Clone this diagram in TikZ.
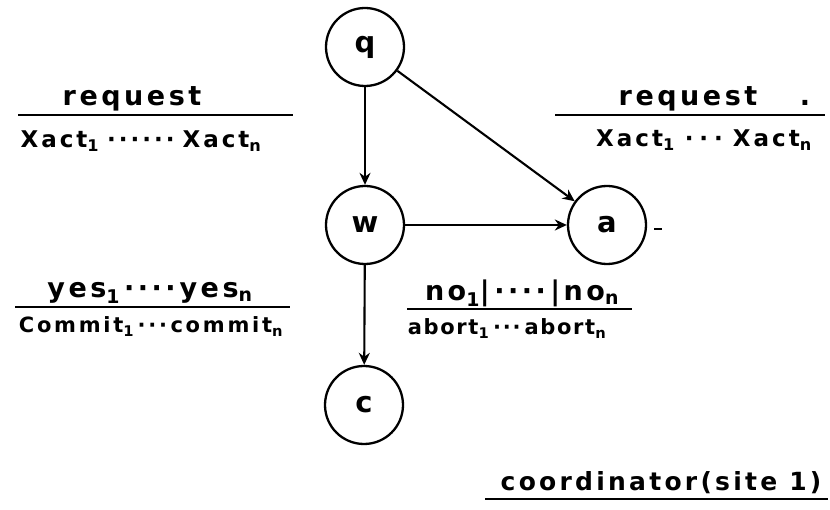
\documentclass[tikz,border=0pt]{standalone}
\usepackage{fontspec}
\usetikzlibrary{arrows.meta}
% labels in a heavy rounded sans, slightly spaced out
\newfontfamily\hand[LetterSpace=13]{DejaVu Sans Bold}
\newfontfamily\handtight[LetterSpace=8]{DejaVu Sans Bold}
\newfontfamily\statefont{DejaVu Sans Bold}
\newcommand\lo[1]{\textsubscript{#1}}
\newcommand\gap[1]{\hspace*{#1pt}}
\begin{document}
\begin{tikzpicture}[x=1pt,y=-1pt,
  line width=2.1pt,
  state/.style={circle,draw,line width=2.3pt,minimum size=78pt,inner sep=0pt,
    font=\statefont\fontsize{29}{29}\selectfont},
  edge/.style={-{Stealth[length=12pt,width=11pt]}},
  num/.style={inner sep=0pt,anchor=base,font=\hand\fontsize{27}{27}\selectfont},
  den/.style={inner sep=0pt,anchor=base,font=\hand\fontsize{23}{23}\selectfont},
  bar/.style={line width=2.4pt}]
\useasboundingbox (0,0) rectangle (830,510);

% states of the coordinator
\node[state] (q) at (365,47) {q};
\node[state] (w) at (365,225) {w};
\node[state] (a) at (607,225) {a};
\node[state] (c) at (364,405) {c};

% transitions
\draw[edge] (q) -- (w);
\draw[edge] (q) -- (a);
\draw[edge] (w) -- (a);
\draw[edge] (w) -- (c);

% q -> w
\node[num] (l1n) at (132,106) {request};
\draw[bar] (18,115) -- (293,115);
\node[den] (l1d) at (141,148) {Xact\lo{1}\gap{8}······\gap{8}Xact\lo{n}};

% q -> a
\node[num] (l2n) at (688,106) {request};
\node[num] (l2p) at (805,106) {.};
\draw[bar] (555,115) -- (825,115);
\node[den] (l2d) at (704,147) {Xact\lo{1}\gap{10}·\gap{6}·\gap{6}·\gap{10}Xact\lo{n}};

% w -> c
\node[num] (l3n) at (150,298) {yes\lo{1}\gap{4}····\gap{4}yes\lo{n}};
\draw[bar] (15,307) -- (290,307);
\node[den, font=\hand\fontsize{21}{21}\selectfont] (l3d) at (151,333)
  {Commit\lo{1}\,···\,commit\lo{n}};

% w -> a
\node[num] (l4n) at (522,301) {no\lo{1}|\,····\,|no\lo{n}};
\draw[bar] (407,309) -- (632,309);
\node[den, font=\handtight\fontsize{21}{21}\selectfont] (l4d) at (507,335)
  {abort\lo{1}\gap{4}···\gap{4}abort\lo{n}};

% stray mark beside a
\draw[line width=1.6pt] (654,229) -- (662,229);

% caption
\node[num, font=\hand\fontsize{25}{25}\selectfont] (cap) at (661,490)
  {coordinator(site 1)};
\draw[bar] (485,499) -- (828,499);
\end{tikzpicture}
\end{document}
